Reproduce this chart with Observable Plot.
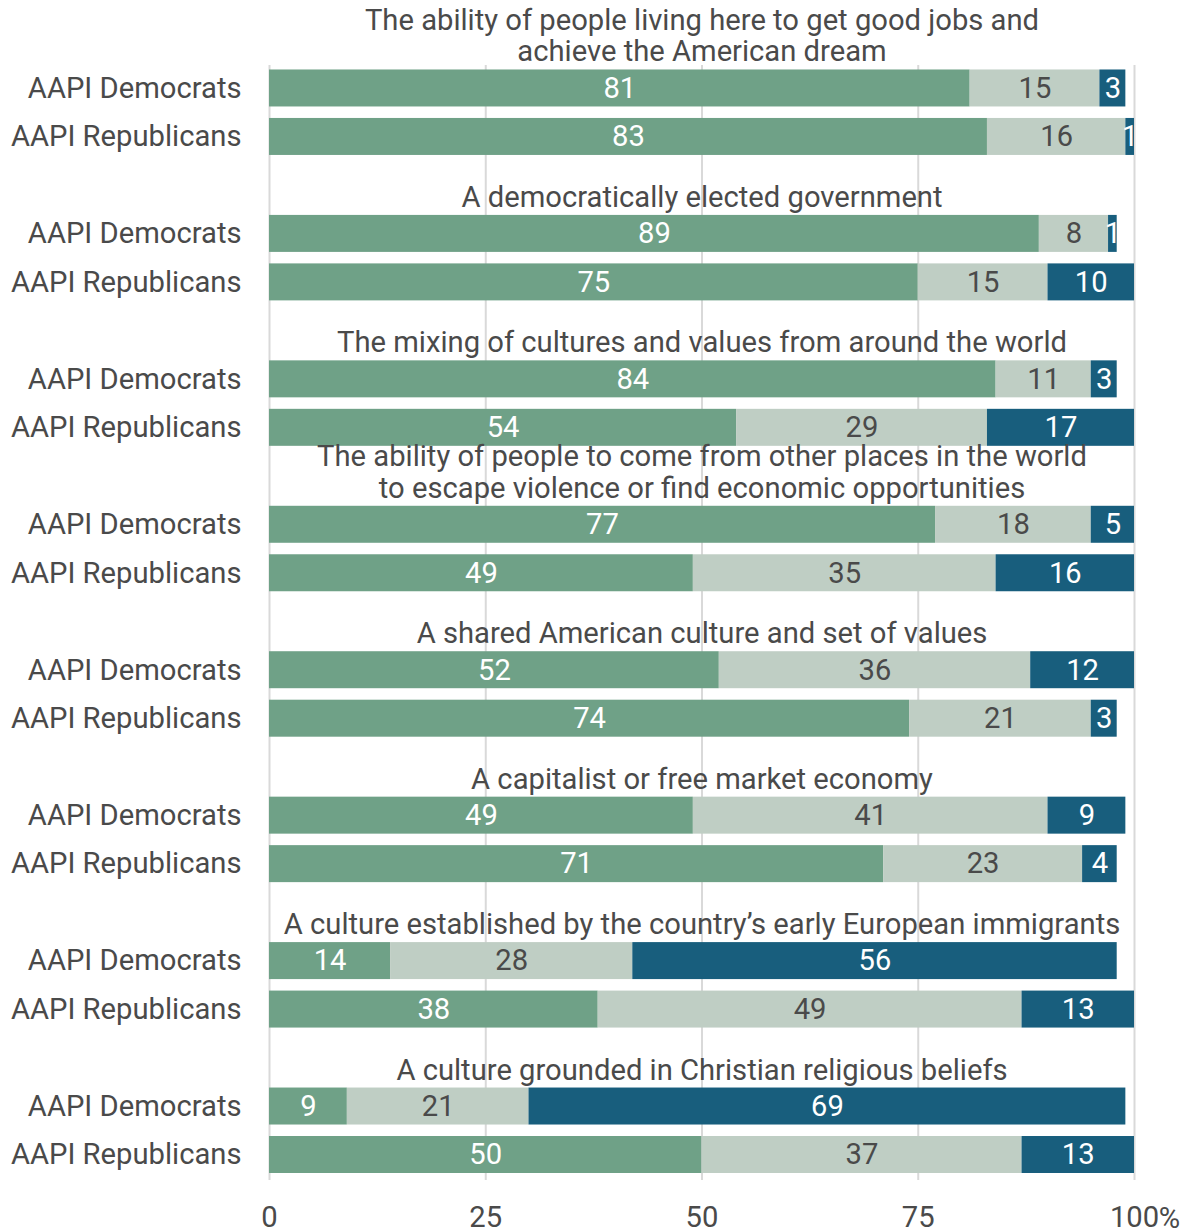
<!DOCTYPE html>
<html><head><meta charset="utf-8">
<script src="https://cdn.jsdelivr.net/npm/d3@7"></script>
<script src="https://cdn.jsdelivr.net/npm/@observablehq/plot@0.6"></script>
<style>
body{margin:0;background:#fff;}
#chart{font-family:Roboto, sans-serif;}
</style></head><body><div id="chart"></div>
<script>
const titles = [
  "The ability of people living here to get good jobs and\nachieve the American dream",
  "A democratically elected government",
  "The mixing of cultures and values from around the world",
  "The ability of people to come from other places in the world\nto escape violence or find economic opportunities",
  "A shared American culture and set of values",
  "A capitalist or free market economy",
  "A culture established by the country\u2019s early European immigrants",
  "A culture grounded in Christian religious beliefs"
];
const parties = ["AAPI Democrats", "AAPI Republicans"];
const responses = ["Important", "Neutral", "Not important"];
const demValues = [[81,15,3],[89,8,1],[84,11,3],[77,18,5],[52,36,12],[49,41,9],[14,28,56],[9,21,69]];
const repValues = [[83,16,1],[75,15,10],[54,29,17],[49,35,16],[74,21,3],[71,23,4],[38,49,13],[50,37,13]];
const xTicks = [0, 25, 50, 75, 100];

const rows = [];
titles.forEach((t, g) => {
  [demValues, repValues].forEach((vals, p) => {
    let acc = 0;
    vals[g].forEach((v, i) => {
      rows.push({key: `${g}|${parties[p]}`, response: responses[i], value: v, x1: acc, x2: acc + v});
      acc += v;
    });
  });
});
const yDomain = titles.flatMap((t, g) => [`t${g}`, `${g}|${parties[0]}`, `${g}|${parties[1]}`]);
const titleRows = titles.map((t, g) => ({key: `${g}|${parties[0]}`, text: t}));

const FS = 29.2;
const TXT = "#4a4a4a";
const chart = Plot.plot({
  width: 1188, height: 1230,
  marginLeft: 269, marginRight: 54, marginTop: 21, marginBottom: 57,
  style: {fontFamily: "Roboto, sans-serif", fontSize: FS + "px", background: "#fff", overflow: "visible"},
  x: {domain: [0, 100]},
  y: {domain: yDomain, paddingInner: 0.237, paddingOuter: 0, round: false},
  color: {domain: responses, range: ["#6fa187", "#bfcec4", "#185e7d"]},
  marks: [
    Plot.gridX(xTicks, {stroke: "#d9d9d9", strokeOpacity: 1, strokeWidth: 2, insetTop: 44, insetBottom: -7}),
    Plot.barX(rows, {x1: "x1", x2: "x2", y: "key", fill: "response"}),
    Plot.text(rows.filter(d => d.response !== "Neutral"), {x: d => (d.x1 + d.x2) / 2, y: "key", text: "value", fill: "white", fontSize: FS}),
    Plot.text(rows.filter(d => d.response === "Neutral"), {x: d => (d.x1 + d.x2) / 2, y: "key", text: "value", fill: TXT, fontSize: FS}),
    Plot.text(titleRows, {y: "key", text: "text", dy: -27, lineAnchor: "bottom", lineHeight: 1.095, fill: TXT, fontSize: FS}),
    Plot.axisY({tickSize: 0, tickPadding: 28, fontSize: FS, color: TXT, label: null,
      tickFormat: k => k.startsWith("t") ? "" : k.split("|")[1]}),
    Plot.axisX(xTicks, {tickSize: 0, tickPadding: 33, fontSize: FS, color: TXT, label: null, tickFormat: d => String(d)}),
    Plot.text(xTicks.slice(-1), {x: d => d, text: () => "%", frameAnchor: "bottom", dy: 54, dx: 24.2, textAnchor: "start", lineAnchor: "bottom", fill: TXT, fontSize: FS})
  ]
});
document.getElementById("chart").appendChild(chart);
</script></body></html>
